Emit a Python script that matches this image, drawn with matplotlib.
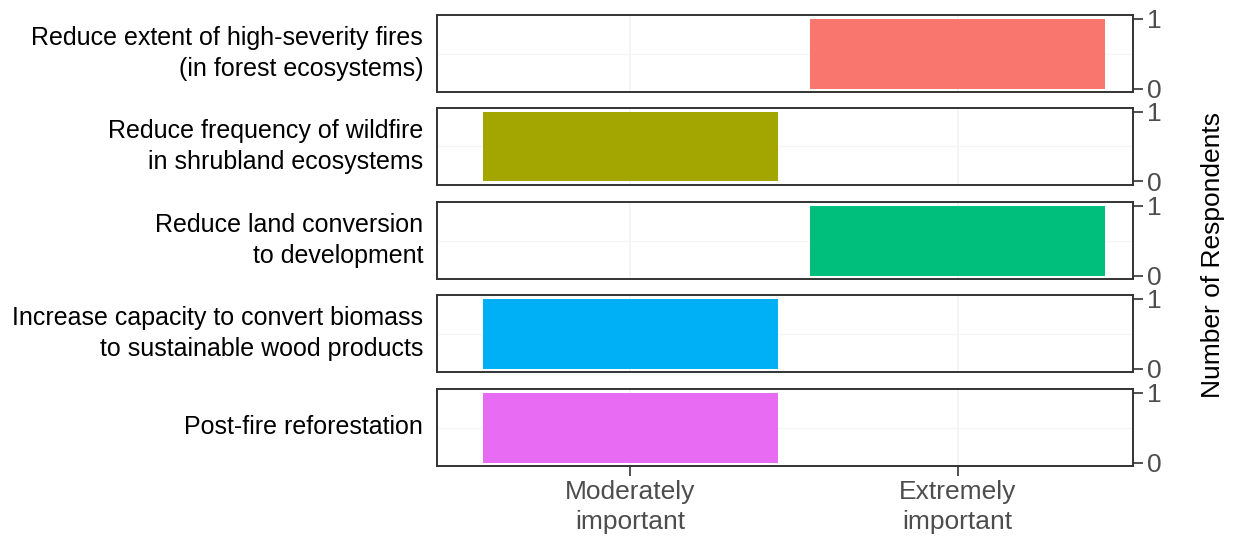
import matplotlib.pyplot as plt

# data
strategies = [
    "Reduce extent of high-severity fires\n(in forest ecosystems)",
    "Reduce frequency of wildfire\nin shrubland ecosystems",
    "Reduce land conversion\nto development",
    "Increase capacity to convert biomass\nto sustainable wood products",
    "Post-fire reforestation",
]
categories = ["Moderately\nimportant", "Extremely\nimportant"]
# number of respondents per category for each strategy
counts = [
    [0, 1],
    [1, 0],
    [0, 1],
    [1, 0],
    [1, 0],
]
colors = ["#F8766D", "#A3A500", "#00BF7D", "#00B0F6", "#E76BF3"]

plt.rcParams['font.family'] = ['Liberation Sans', 'DejaVu Sans']

W, H = 1233, 538
fig = plt.figure(figsize=(W / 100, H / 100), dpi=100)

left, right = 437, 1133
tops = [15, 108, 202, 295, 389]
ph = 77

xpos = [1, 2]
for i, (label, vals, col) in enumerate(zip(strategies, counts, colors)):
    ax = fig.add_axes([left / W, 1 - (tops[i] + ph) / H, (right - left) / W, ph / H])
    ax.bar(xpos, vals, width=0.9, color=col, zorder=2)
    ax.set_xlim(0.41, 2.535)
    ax.set_ylim(-0.05, 1.05)
    for x in xpos:
        ax.axvline(x, color="#f3f3f3", lw=1.2, zorder=0)
    ax.axhline(0.5, color="#f5f5f5", lw=1.0, zorder=0)
    for s in ax.spines.values():
        s.set_color("#333333")
        s.set_linewidth(1.4)
    ax.yaxis.tick_right()
    ax.set_yticks([0, 1])
    ax.tick_params(axis="y", length=7, width=1.2, color="#333333",
                   labelsize=19, labelcolor="#4d4d4d", pad=3)
    ax.set_xticks(xpos)
    if i < len(strategies) - 1:
        ax.tick_params(axis="x", length=0, labelbottom=False)
    else:
        ax.set_xticklabels(categories, linespacing=1.3)
        ax.tick_params(axis="x", length=7, width=1.2, color="#333333",
                       labelsize=19, labelcolor="#4d4d4d", pad=3)
    ax.text(-0.02, 0.5, label, transform=ax.transAxes, ha="right", va="center",
            fontsize=18, color="black", linespacing=1.33)

fig.text(1213 / W, 1 - 255 / H, "Number of Respondents", rotation=90,
         ha="center", va="center", fontsize=19, color="black")

fig.savefig("out.png", dpi=100)
